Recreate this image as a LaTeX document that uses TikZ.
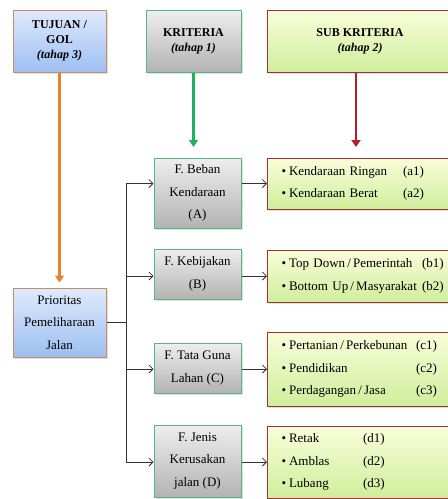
\documentclass[tikz,border=0pt]{standalone}
\usepackage{fontspec}
\setmainfont{Liberation Serif}
\usetikzlibrary{positioning, arrows.meta, shadows}

\definecolor{birumuda}{HTML}{DFEAFC}
\definecolor{birutua}{HTML}{9DBFF2}
\definecolor{borderoranye}{HTML}{C98D5E}
\definecolor{abumuda}{HTML}{EEEEEE}
\definecolor{abutua}{HTML}{B3B3B3}
\definecolor{borderhijau}{HTML}{52B887}
\definecolor{kuningmuda}{HTML}{FAFDDA}
\definecolor{hijaumuda}{HTML}{CFEE9C}
\definecolor{bordermerah}{HTML}{A03232}
\definecolor{oranye}{HTML}{E8802E}
\definecolor{hijau}{HTML}{22B062}
\definecolor{merah}{HTML}{B51E2D}

\newcommand{\butir}[3]{\mbox{\textbullet\hspace*{3pt}\makebox[#1][l]{#2}#3}}

\tikzset{
  kotak/.style={draw, line width=1pt, align=center,
    drop shadow={opacity=0.25, shadow xshift=1.5pt, shadow yshift=-1.5pt}},
  tujuanbox/.style={kotak, draw=borderoranye, top color=birumuda, bottom color=birutua},
  kritbox/.style={kotak, draw=borderhijau, top color=abumuda, bottom color=abutua, minimum width=87pt},
  subwarna/.style={kotak, draw=bordermerah, top color=kuningmuda, bottom color=hijaumuda, anchor=west},
  subbox/.style={subwarna, align=left, text width=175pt, inner xsep=14pt},
  judul/.style={font=\bfseries\fontsize{12}{15}\selectfont},
  isi/.style={font=\fontsize{13}{22.5}\selectfont},
  garis/.style={draw=black!80, line width=0.8pt},
  panah/.style={garis, -{Straight Barb[length=4pt,width=8pt]}},
  panahwarna/.style={line width=2.5pt, -{Triangle[width=9pt,length=7pt]}}
}

\begin{document}
\begin{tikzpicture}[x=1pt,y=-1pt]
    \useasboundingbox (0,0) rectangle (448,499);
    \fill[white] (0,0) rectangle (448,499);

    \node[tujuanbox, judul, minimum width=93pt, minimum height=62pt] (gol) at (59.5,41) {TUJUAN /\\GOL\\\textit{(tahap 3)}};
    \node[kritbox, judul, minimum width=95pt, minimum height=62pt] (krit) at (193.5,41) {KRITERIA\\\textit{(tahap 1)}};
    \node[subwarna, judul, minimum width=185pt, minimum height=62pt] (subkrit) at (267,41) {SUB KRITERIA\\\textit{(tahap 2)}};

    \node[tujuanbox, isi, minimum width=93pt, minimum height=69pt] (prio) at (59.5,322.5) {Prioritas\\Pemeliharaan\\Jalan};

    \node[kritbox, isi, minimum height=70pt] (fa) at (197.5,193) {F. Beban\\Kendaraan\\(A)};
    \node[kritbox, isi, minimum height=50pt] (fb) at (197.5,274) {F. Kebijakan\\(B)};
    \node[kritbox, isi, minimum height=50pt] (fc) at (197.5,368) {F. Tata Guna\\Lahan (C)};
    \node[kritbox, isi, minimum height=72pt] (fd) at (197.5,461) {F. Jenis\\Kerusakan\\jalan (D)};

    \node[subbox, isi, minimum height=51pt] (sa) at (267,183.5) {\butir{114pt}{Kendaraan Ringan}{(a1)}\\\butir{114pt}{Kendaraan Berat}{(a2)}};
    \node[subbox, isi, minimum height=52pt] (sb) at (267,276) {\butir{133pt}{Top Down\,/\,Pemerintah}{(b1)}\\\butir{133pt}{Bottom Up\,/\,Masyarakat}{(b2)}};
    \node[subbox, isi, minimum height=74pt] (sc) at (267,369) {\butir{127pt}{Pertanian\,/\,Perkebunan}{(c1)}\\\butir{127pt}{Pendidikan}{(c2)}\\\butir{127pt}{Perdagangan\,/\,Jasa}{(c3)}};
    \node[subbox, isi, minimum height=72pt] (sd) at (267,462) {\butir{74pt}{Retak}{(d1)}\\\butir{74pt}{Amblas}{(d2)}\\\butir{74pt}{Lubang}{(d3)}};

    \coordinate (ujunghijau) at (193.5,147);
    \coordinate (ujungmerah) at (356,147);
    \draw[panahwarna, draw=oranye, shorten >=5pt] (gol) -- (prio);
    \draw[panahwarna, draw=hijau] (krit) -- (ujunghijau);
    \draw[panahwarna, draw=merah] (subkrit.south -| ujungmerah) -- (ujungmerah);

    \coordinate (cabang) at (126,322.5);
    \draw[garis] (prio) -- (cabang);
    \draw[garis] (cabang |- sa) -- (cabang |- sd);
    \foreach \k in {a,b,c,d}{
        \draw[panah] (cabang |- s\k) -- (f\k.west |- s\k);
        \draw[panah] (f\k.east |- s\k) -- (s\k);
    }
\end{tikzpicture}
\end{document}
